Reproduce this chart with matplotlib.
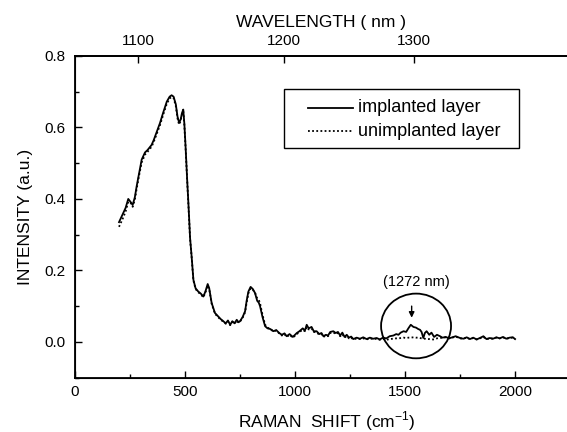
import matplotlib
matplotlib.use("Agg")
import matplotlib.pyplot as plt
from matplotlib.patches import Ellipse, Rectangle
from matplotlib.ticker import MultipleLocator, FormatStrFormatter

plt.rcParams['font.family'] = ['Liberation Sans', 'DejaVu Sans']

raman_shift = [200, 215, 230, 242, 252, 262, 272, 280, 292, 303, 318, 330, 340, 348, 358, 370, 386, 400, 417, 430,
               439, 448, 458, 466, 473, 480, 486, 492, 497, 503, 510, 516, 523, 530, 538, 548, 560, 572, 583, 592,
               603, 610, 621, 636, 650, 662, 674, 685, 695, 705, 715, 725, 735, 743, 750, 762, 773, 780, 788, 798,
               808, 818, 828, 835, 841, 852, 864, 875, 888, 901, 915, 928, 940, 952, 962, 975, 990, 1008, 1020, 1035,
               1045, 1053, 1062, 1075, 1085, 1098, 1110, 1120, 1129, 1140, 1150, 1160, 1174, 1185, 1195, 1205, 1215, 1225, 1235, 1245,
               1255, 1265, 1280, 1295, 1310, 1325, 1340, 1355, 1371, 1385, 1400, 1415, 1430, 1447, 1460, 1470, 1480, 1493, 1505, 1515,
               1526, 1538, 1550, 1560, 1568, 1575, 1583, 1590, 1598, 1610, 1620, 1632, 1645, 1659, 1670, 1685, 1700, 1715, 1730, 1750,
               1765, 1780, 1795, 1810, 1825, 1840, 1856, 1870, 1885, 1900, 1915, 1930, 1945, 1960, 1975, 1990, 2000]

implanted = [0.335, 0.355, 0.375, 0.400, 0.392, 0.383, 0.405, 0.435, 0.475, 0.510, 0.530, 0.537, 0.545, 0.551, 0.565, 0.585, 0.612, 0.640, 0.672, 0.686,
             0.690, 0.686, 0.665, 0.630, 0.613, 0.622, 0.640, 0.650, 0.610, 0.540, 0.450, 0.380, 0.290, 0.239, 0.174, 0.150, 0.141, 0.135, 0.127, 0.140,
             0.162, 0.150, 0.109, 0.081, 0.072, 0.064, 0.058, 0.052, 0.060, 0.048, 0.058, 0.052, 0.062, 0.055, 0.058, 0.070, 0.086, 0.115, 0.141, 0.154,
             0.148, 0.137, 0.115, 0.110, 0.100, 0.070, 0.044, 0.038, 0.036, 0.030, 0.033, 0.025, 0.020, 0.024, 0.016, 0.022, 0.014, 0.025, 0.030, 0.038,
             0.032, 0.048, 0.038, 0.042, 0.030, 0.030, 0.022, 0.025, 0.016, 0.020, 0.018, 0.028, 0.030, 0.025, 0.028, 0.018, 0.026, 0.014, 0.020, 0.012,
             0.015, 0.008, 0.012, 0.009, 0.013, 0.008, 0.012, 0.009, 0.011, 0.007, 0.012, 0.010, 0.016, 0.018, 0.022, 0.020, 0.026, 0.030, 0.028, 0.038,
             0.048, 0.042, 0.040, 0.036, 0.034, 0.028, 0.011, 0.025, 0.030, 0.020, 0.026, 0.014, 0.020, 0.016, 0.012, 0.014, 0.010, 0.013, 0.016, 0.011,
             0.009, 0.013, 0.008, 0.012, 0.007, 0.011, 0.016, 0.008, 0.011, 0.009, 0.013, 0.010, 0.014, 0.009, 0.012, 0.013, 0.008]

unimplanted = [0.322, 0.342, 0.365, 0.392, 0.390, 0.378, 0.398, 0.428, 0.468, 0.502, 0.524, 0.532, 0.540, 0.546, 0.560, 0.580, 0.606, 0.634, 0.666, 0.681,
               0.685, 0.682, 0.660, 0.625, 0.608, 0.618, 0.636, 0.645, 0.606, 0.536, 0.447, 0.377, 0.288, 0.237, 0.172, 0.148, 0.139, 0.133, 0.125, 0.137,
               0.158, 0.147, 0.107, 0.079, 0.070, 0.062, 0.057, 0.051, 0.058, 0.047, 0.056, 0.051, 0.060, 0.054, 0.057, 0.068, 0.083, 0.110, 0.136, 0.150,
               0.146, 0.138, 0.122, 0.118, 0.108, 0.076, 0.048, 0.040, 0.036, 0.030, 0.032, 0.024, 0.018, 0.022, 0.014, 0.020, 0.012, 0.022, 0.028, 0.034,
               0.030, 0.042, 0.035, 0.038, 0.028, 0.027, 0.020, 0.022, 0.014, 0.018, 0.016, 0.025, 0.027, 0.022, 0.025, 0.016, 0.022, 0.012, 0.017, 0.010,
               0.012, 0.007, 0.010, 0.008, 0.010, 0.007, 0.010, 0.008, 0.009, 0.006, 0.008, 0.006, 0.008, 0.009, 0.010, 0.010, 0.011, 0.012, 0.011, 0.012,
               0.012, 0.013, 0.012, 0.012, 0.011, 0.010, 0.009, 0.009, 0.008, 0.008, 0.007, 0.007, 0.010, 0.012, 0.011, 0.013, 0.010, 0.012, 0.015, 0.010,
               0.009, 0.012, 0.008, 0.011, 0.007, 0.010, 0.014, 0.008, 0.010, 0.009, 0.012, 0.010, 0.013, 0.009, 0.011, 0.012, 0.008]

series_labels = ['implanted layer', 'unimplanted layer']

top_tick_positions = [286, 951, 1541]
top_tick_labels = ['1100', '1200', '1300']

fig = plt.figure(figsize=(5.67, 4.32), dpi=100)
ax = fig.add_axes([0.1323, 0.1257, 0.8677, 0.7449])

styles = [dict(color='black', lw=1.3, ls='-'), dict(color='black', lw=1.3, ls=(0, (1, 1.3)))]
ax.plot(raman_shift, implanted, label=series_labels[0], **styles[0])
ax.plot(raman_shift, unimplanted, label=series_labels[1], **styles[1])

ax.set_xlim(0, 2236)
ax.set_ylim(-0.1, 0.8)
ax.xaxis.set_major_locator(MultipleLocator(500))
ax.xaxis.set_minor_locator(MultipleLocator(250))
ax.yaxis.set_major_locator(MultipleLocator(0.2))
ax.yaxis.set_minor_locator(MultipleLocator(0.1))
ax.yaxis.set_major_formatter(FormatStrFormatter('%.1f'))
ax.tick_params(which='both', direction='in', labelsize=11, width=1.0)
ax.tick_params(which='major', length=5)
ax.tick_params(which='minor', length=3)
ax.tick_params(axis='x', pad=5.5)
ax.tick_params(axis='y', pad=6.5)
for s in ['left', 'bottom', 'top']:
    ax.spines[s].set_linewidth(1.3)
ax.spines['right'].set_visible(False)

ax.set_xlabel('RAMAN  SHIFT (cm$^{\\mathregular{-1}}$)', fontsize=12.5)
ax.xaxis.set_label_coords(0.5116, -0.156)
ax.xaxis.label.set_va('baseline')
ax.set_ylabel('INTENSITY (a.u.)', fontsize=12.5)
ax.yaxis.set_label_coords(-0.1016, 0.5)
ax.yaxis.label.set_va('center')

top = ax.twiny()
top.set_xlim(ax.get_xlim())
top.set_xticks(top_tick_positions)
top.set_xticklabels(top_tick_labels)
top.tick_params(direction='in', length=5, width=1.0, labelsize=11, pad=5.5)
top.spines['right'].set_visible(False)
top.spines['top'].set_linewidth(1.3)
top.set_xlabel('WAVELENGTH ( nm )', fontsize=12.5)
top.xaxis.set_label_coords(0.5, 1.105)
top.xaxis.label.set_va('center')

# legend box (drawn in axes coordinates)
ax.add_patch(Rectangle((0.4248, 0.7138), 0.4776, 0.1833, transform=ax.transAxes,
                       fill=True, facecolor='white', edgecolor='black', lw=1.0, zorder=5))
for label, st, yy in zip(series_labels, styles, [0.8381, 0.7666]):
    ax.plot([0.4736, 0.5650], [yy, yy], transform=ax.transAxes, zorder=6, **st)
    ax.text(0.5752, yy, label, transform=ax.transAxes, ha='left', va='center',
            fontsize=13, zorder=6)

ax.add_patch(Ellipse((1550, 0.0447), 318, 0.181, fill=False, edgecolor='black', lw=1.3))
ax.annotate('', xy=(1530, 0.060), xytext=(1530, 0.108),
            arrowprops=dict(arrowstyle='-|>', color='black', lw=1.0, mutation_scale=8))
ax.text(1550, 0.169, '(1272 nm)', ha='center', va='center', fontsize=10.5)

fig.savefig('out.png', dpi=100)
